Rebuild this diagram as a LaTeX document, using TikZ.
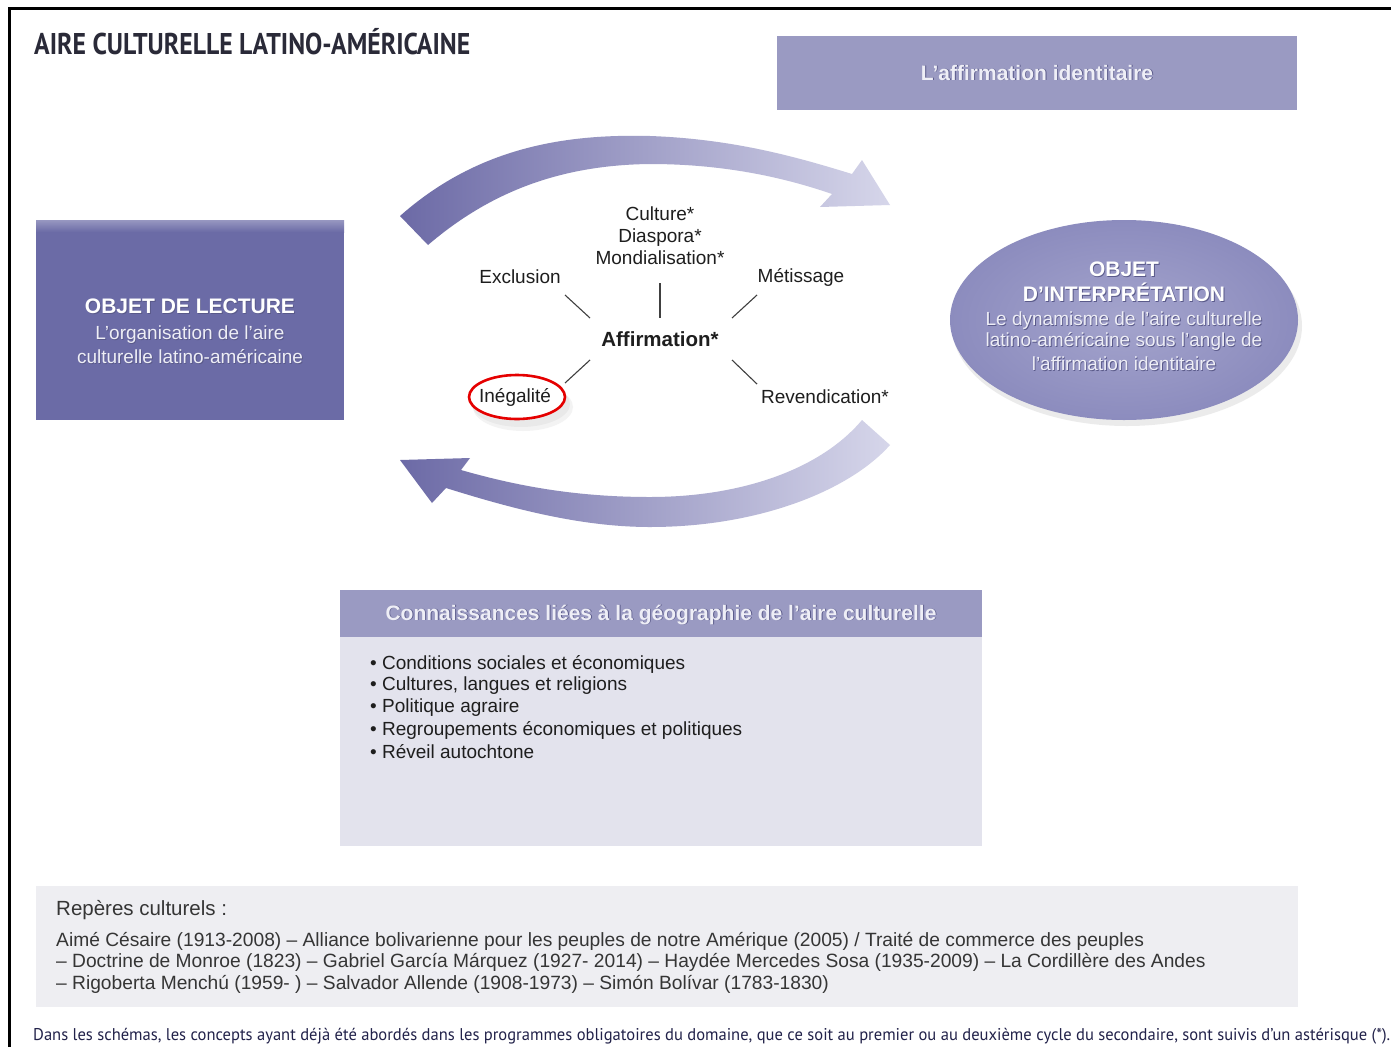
\documentclass[tikz,border=0pt]{standalone}
\usepackage{fontspec}
\usepackage{graphicx}
\setmainfont{Liberation Sans}
\newfontfamily\titlefont{PT Sans}
\newfontfamily\notefont{PT Sans}
\usetikzlibrary{shapes.geometric,calc}

\definecolor{lavbox}{HTML}{9A9AC2}
\definecolor{darkbox}{HTML}{6B6BA6}
\definecolor{ovalfill}{HTML}{9C9CC8}
\definecolor{ovaledge}{HTML}{8C8CBE}
\definecolor{bodyfill}{HTML}{E3E3ED}
\definecolor{refill}{HTML}{EEEEF2}
\definecolor{arrowdark}{HTML}{6C6AA6}
\definecolor{arrowlight}{HTML}{D6D6EA}
\definecolor{ink}{HTML}{1E1E1E}
\definecolor{titleink}{HTML}{2A2A38}
\definecolor{noteink}{HTML}{22224A}
\definecolor{softwhite}{HTML}{EEEEF6}
\definecolor{glyphshade}{HTML}{5A5A8A}

% white lettering with a small dark drop shadow
\newcommand{\embossed}[1]{\leavevmode\rlap{\kern0.9pt\raisebox{-0.9pt}{\color{glyphshade}#1}}#1}

\tikzset{
  txt/.style={inner sep=0pt, text=ink, font=\fontsize{19}{22}\selectfont},
  boxtitle/.style={inner sep=0pt, text=white, font=\bfseries\fontsize{21}{24}\selectfont},
  boxtext/.style={inner sep=0pt, text=softwhite, font=\fontsize{19}{22}\selectfont},
  spoke/.style={draw=ink!85, line width=1.1pt},
  bullet/.style={inner sep=0pt, anchor=west, text=ink, font=\fontsize{19}{22}\selectfont},
  refline/.style={inner sep=0pt, anchor=west, text=ink!90, font=\fontsize{19.2}{22}\selectfont},
}

\begin{document}
\begin{tikzpicture}[x=1pt,y=-1pt]
\useasboundingbox (0,0) rectangle (1391,1047);
\fill[white] (0,0) rectangle (1391,1047);

% page frame (top and left edges)
\draw[line width=3pt, black] (9,1047) -- (9,8) -- (1391,8);

% title
\node[anchor=west, inner sep=0pt, text=titleink] (title) at (34,42)
  {\resizebox{436pt}{\height}{\titlefont\bfseries\fontsize{30}{34}\selectfont AIRE CULTURELLE LATINO-AMÉRICAINE}};

% top right banner
\fill[lavbox] (777,36) rectangle (1297,110);
\node[boxtitle, text=softwhite] (banner) at (1037,73) {\embossed{L’affirmation identitaire}};

% left box
\fill[darkbox] (36,220) rectangle (344,420);
\shade[top color=darkbox!70!white, bottom color=darkbox] (36,220) rectangle (344,232);
\node[boxtitle] (lecture) at (190,307) {\embossed{OBJET DE LECTURE}};
\node[boxtext] (lecture1) at (190,335) {\embossed{L’organisation de l’aire}};
\node[boxtext] (lecture2) at (190,357) {\embossed{culturelle latino-américaine}};

% right oval
\fill[gray!25, opacity=0.6] (1127,326) ellipse [x radius=175, y radius=100];
\shade[inner color=ovalfill!92!white, outer color=ovaledge] (1124,320) ellipse [x radius=174, y radius=100];
\node[boxtitle] (interp1) at (1124,270) {\embossed{OBJET}};
\node[boxtitle] (interp2) at (1124,293) {\embossed{D'INTERPRÉTATION}};
\node[boxtext] (interp3) at (1124,321) {\embossed{Le dynamisme de l'aire culturelle}};
\node[boxtext] (interp4) at (1124,342) {\embossed{latino-américaine sous l'angle de}};
\node[boxtext] (interp5) at (1124,364) {\embossed{l'affirmation identitaire}};

% upper curved arrow (left to right)
\shade[left color=arrowdark, right color=arrowlight]
  (400,216) .. controls (480,145) and (570,134) .. (650,136)
  .. controls (735,139) and (800,158) .. (852,174)
  -- (862,160) -- (890,205) -- (820,207) -- (832,194)
  .. controls (780,176) and (720,164) .. (650,164)
  .. controls (560,165) and (490,192) .. (428,245) -- cycle;

% lower curved arrow (right to left)
\shade[left color=arrowdark, right color=arrowlight]
  (862,420) .. controls (820,470) and (740,497) .. (650,497)
  .. controls (570,497) and (510,484) .. (461,470)
  -- (470,458) -- (400,460) -- (432,503) -- (446,488)
  .. controls (510,508) and (580,527) .. (650,527)
  .. controls (760,527) and (850,490) .. (890,445) -- cycle;

% soft shadow under the highlight ring
\fill[gray!35, opacity=0.35] (521,404) ellipse [x radius=49, y radius=23];
\fill[gray!25, opacity=0.35] (523,407) ellipse [x radius=50, y radius=24];
\fill[white] (517,397) ellipse [x radius=47, y radius=21];

% concept web
\node[txt, align=center] (concepts) at (660,236) {Culture*\\Diaspora*\\Mondialisation*};
\node[txt] (exclusion) at (520,277) {Exclusion};
\node[txt] (metissage) at (801,277) {Métissage};
\node[txt, font=\bfseries\fontsize{20.5}{23}\selectfont] (aff) at (660,339) {Affirmation*};
\node[txt] (inegalite) at (515,397) {Inégalité};
\node[txt] (revendication) at (825,397) {Revendication*};

\coordinate (sExA) at (565,295); \coordinate (sExB) at (590,318);
\coordinate (sCoA) at (660,283); \coordinate (sCoB) at (660,318);
\coordinate (sMeA) at (757,295); \coordinate (sMeB) at (732,318);
\coordinate (sInA) at (565,383); \coordinate (sInB) at (590,360);
\coordinate (sReA) at (757,384); \coordinate (sReB) at (732,360);
\draw[spoke] (sExA) -- (sExB);
\draw[spoke] (sCoA) -- (sCoB);
\draw[spoke] (sMeA) -- (sMeB);
\draw[spoke] (sInA) -- (sInB);
\draw[spoke] (sReA) -- (sReB);

% red highlight ring
\draw[red!90!black, line width=2.6pt] ([xshift=2pt]inegalite.center) ellipse [x radius=48, y radius=22];

% knowledge box
\fill[bodyfill] (340,590) rectangle (982,846);
\fill[lavbox] (340,590) rectangle (982,637);
\node[boxtitle, text=softwhite] (connhead) at (661,615)
  {\embossed{Connaissances liées à la géographie de l’aire culturelle}};
\node[bullet] (b1) at (370,664) {• Conditions sociales et économiques};
\node[bullet] (b2) at (370,686) {• Cultures, langues et religions};
\node[bullet] (b3) at (370,708) {• Politique agraire};
\node[bullet] (b4) at (370,730) {• Regroupements économiques et politiques};
\node[bullet] (b5) at (370,752) {• Réveil autochtone};

% cultural landmarks box
\fill[refill] (36,886) rectangle (1298,1007);
\node[refline, font=\fontsize{20.5}{23}\selectfont] (rephead) at (56,910) {Repères culturels :};
\node[refline] (r1) at (56,941) {Aimé Césaire (1913-2008) – Alliance bolivarienne pour les peuples de notre Amérique (2005) / Traité de commerce des peuples};
\node[refline] (r2) at (56,962) {– Doctrine de Monroe (1823) – Gabriel García Márquez (1927- 2014) – Haydée Mercedes Sosa (1935-2009) – La Cordillère des Andes};
\node[refline] (r3) at (56,984) {– Rigoberta Menchú (1959- ) – Salvador Allende (1908-1973) – Simón Bolívar (1783-1830)};

% footnote
\node[anchor=west, inner sep=0pt, text=noteink] (note) at (33,1036)
  {\resizebox{1357pt}{\height}{\notefont\fontsize{17}{20}\selectfont Dans les schémas, les concepts ayant déjà été abordés dans les programmes obligatoires du domaine, que ce soit au premier ou au deuxième cycle du secondaire, sont suivis d’un astérisque (*).}};
\end{tikzpicture}
\end{document}
